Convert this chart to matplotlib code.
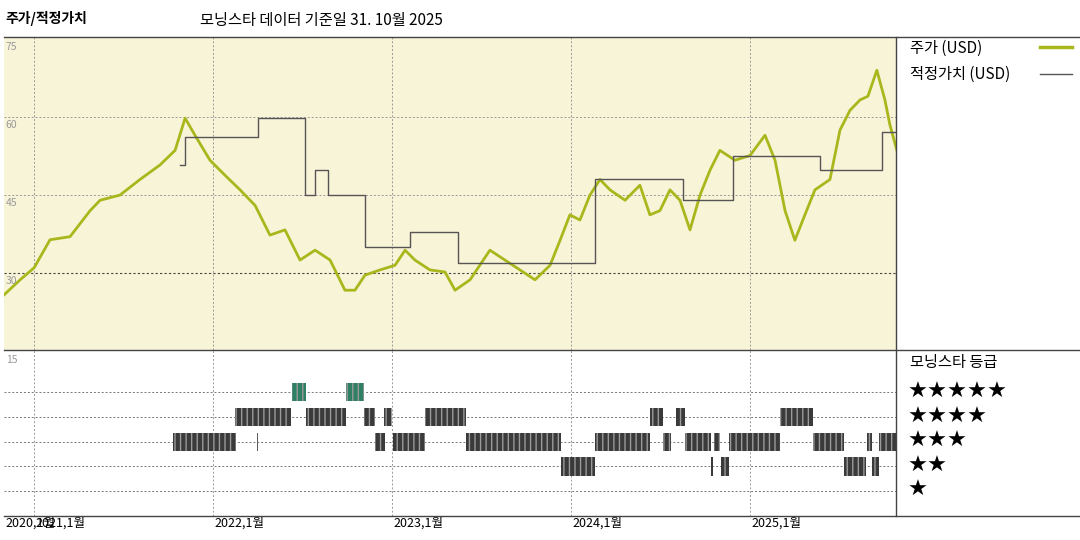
import matplotlib
matplotlib.use('Agg')
import matplotlib.pyplot as plt
from matplotlib.lines import Line2D

plt.rcParams['font.family'] = ['Noto Sans CJK KR', 'DejaVu Sans']

# price (USD), dates as decimal years
price_t = [2020.832, 2020.922, 2021.0, 2021.089, 2021.201, 2021.313, 2021.369, 2021.480, 2021.592,
           2021.704, 2021.788, 2021.844, 2021.899, 2021.983, 2022.067, 2022.151, 2022.235, 2022.318,
           2022.402, 2022.486, 2022.570, 2022.654, 2022.737, 2022.793, 2022.849, 2022.933, 2023.017,
           2023.073, 2023.128, 2023.212, 2023.296, 2023.352, 2023.436, 2023.547, 2023.631, 2023.715,
           2023.799, 2023.883, 2023.939, 2023.994, 2024.050, 2024.106, 2024.162, 2024.218, 2024.302,
           2024.385, 2024.441, 2024.497, 2024.553, 2024.609, 2024.665, 2024.721, 2024.777, 2024.832,
           2024.916, 2025.000, 2025.084, 2025.140, 2025.196, 2025.251, 2025.307, 2025.363, 2025.447,
           2025.503, 2025.559, 2025.615, 2025.659, 2025.709, 2025.754, 2025.782, 2025.821]
price_v = [25.8, 28.7, 31.0, 36.4, 37.0, 42.0, 44.0, 45.0, 48.0,
           50.8, 53.6, 59.8, 56.5, 51.7, 48.8, 46.0, 43.0, 37.3,
           38.3, 32.5, 34.4, 32.5, 26.7, 26.7, 29.6, 30.6, 31.5,
           34.4, 32.5, 30.6, 30.2, 26.7, 28.7, 34.4, 32.5, 30.6,
           28.7, 31.5, 36.3, 41.2, 40.2, 45.0, 48.0, 46.0, 44.0,
           46.9, 41.2, 42.0, 46.0, 44.0, 38.3, 45.0, 49.8, 53.6,
           51.7, 52.6, 56.5, 51.7, 42.0, 36.3, 41.2, 46.0, 48.0,
           57.5, 61.3, 63.3, 64.0, 69.0, 63.3, 58.5, 53.6]

# fair value (USD), step changes
fair_t = [2021.816, 2021.844, 2022.251, 2022.514, 2022.570, 2022.642, 2022.849, 2023.101,
          2023.369, 2024.134, 2024.626, 2024.905, 2025.391, 2025.737, 2025.821]
fair_v = [50.8, 56.2, 59.8, 45.0, 49.8, 45.0, 35.0, 37.9, 32.0, 48.0, 44.0, 52.6, 49.8, 57.1, 57.1]

# Morningstar rating periods (start, end) per star count
rating5 = [(2022.441, 2022.520), (2022.743, 2022.844)]
rating4 = [(2022.123, 2022.436), (2022.520, 2022.743), (2022.844, 2022.905), (2022.955, 2023.000),
           (2023.184, 2023.413), (2024.441, 2024.514), (2024.587, 2024.637), (2025.168, 2025.352)]
rating3 = [(2021.777, 2022.128), (2022.246, 2022.251), (2022.905, 2022.961), (2023.006, 2023.184),
           (2023.413, 2023.944), (2024.134, 2024.441), (2024.514, 2024.559), (2024.637, 2024.782),
           (2024.799, 2024.832), (2024.883, 2025.168), (2025.352, 2025.525), (2025.654, 2025.682),
           (2025.721, 2025.816)]
rating2 = [(2023.944, 2024.134), (2024.782, 2024.793), (2024.838, 2024.883), (2025.525, 2025.648),
           (2025.682, 2025.721)]

years = [2021, 2022, 2023, 2024, 2025]
year_labels = ['2021,1월', '2022,1월', '2023,1월', '2024,1월', '2025,1월']

x0, x1 = 2020.832, 2025.816
W, H = 1080, 540
fig = plt.figure(figsize=(10.8, 5.4), dpi=100)

def box(l, t, r, b):
    return [l / W, 1 - b / H, (r - l) / W, (b - t) / H]

# top panel: price / fair value
ax = fig.add_axes(box(4, 37, 896, 350))
ax.set_facecolor('#f8f4d8')
ax.set_xlim(x0, x1)
ax.set_ylim(15.2, 75.4)
for y in [60, 45]:
    ax.axhline(y, color='#999999', lw=0.7, ls=(0, (2, 2)))
ax.axhline(30, color='#444444', lw=0.8, ls=(0, (2, 2)))
for yr in years:
    ax.axvline(yr, color='#999999', lw=0.7, ls=(0, (2, 2)))
ax.plot(price_t, price_v, color='#a9b71c', lw=2)
ax.step(fair_t, fair_v, where='post', color='#555555', lw=1)
for v in [75, 60, 45, 30]:
    ax.text(x0 + 0.01, v - 0.6, str(v), fontsize=7.5, color='#999999', va='top', ha='left')
ax.set_xticks([]); ax.set_yticks([])
for s in ax.spines.values():
    s.set_visible(False)

# bottom panel: star rating
bx = fig.add_axes(box(4, 350, 896, 516))
bx.set_xlim(x0, x1)
bx.set_ylim(0, 6.7)
for r in [5, 4, 3, 2, 1]:
    bx.axhline(r, color='#777777', lw=0.7, ls=(0, (2, 2)), zorder=0)
for yr in years:
    bx.axvline(yr, color='#999999', lw=0.7, ls=(0, (2, 2)), zorder=0)
for r, spans, col in [(5, rating5, '#2f7f64'), (4, rating4, '#3a3a3a'),
                      (3, rating3, '#3a3a3a'), (2, rating2, '#3a3a3a')]:
    bx.broken_barh([(a, b - a) for a, b in spans], (r - 0.37, 0.74),
                   facecolors=col, edgecolor='#9a9a9a', hatch='|||', lw=0)
bx.text(x0 + 0.01, 6.5, '15', fontsize=7.5, color='#999999', va='top', ha='left')
bx.set_xticks([]); bx.set_yticks([])
for s in bx.spines.values():
    s.set_visible(False)

# frame lines
for y in [37, 350, 516]:
    fig.add_artist(Line2D([4 / W, 1], [1 - y / H] * 2, color='#444444', lw=1))
fig.add_artist(Line2D([896 / W] * 2, [1 - 37 / H, 1 - 516 / H], color='#444444', lw=1))

# titles
fig.text(5 / W, 1 - 18 / H, '주가/적정가치', fontsize=10, fontweight='bold', va='center')
fig.text(200 / W, 1 - 20 / H, '모닝스타 데이터 기준일 31. 10월 2025', fontsize=11, va='center')

# x labels
fig.text(5 / W, 1 - 523 / H, '2020,1월', fontsize=9, va='center')
for yr, lab in zip(years, year_labels):
    xp = 34 + (yr - 2021) * 179
    fig.text((xp + 1) / W, 1 - 523 / H, lab, fontsize=9, va='center')

# legend
fig.text(910 / W, 1 - 48 / H, '주가 (USD)', fontsize=11, va='center')
fig.add_artist(Line2D([1040 / W, 1072 / W], [1 - 47 / H] * 2, color='#a9b71c', lw=2.5))
fig.text(910 / W, 1 - 74 / H, '적정가치 (USD)', fontsize=11, va='center')
fig.add_artist(Line2D([1040 / W, 1072 / W], [1 - 74 / H] * 2, color='#555555', lw=1))

fig.text(910 / W, 1 - 363 / H, '모닝스타 등급', fontsize=11, va='center')
for i, n in enumerate([5, 4, 3, 2, 1]):
    fig.text(908 / W, 1 - (392 + i * 24.6) / H, '★' * n, fontsize=16, va='center',
             family=['DejaVu Sans'])

fig.savefig('out.png', dpi=100)
